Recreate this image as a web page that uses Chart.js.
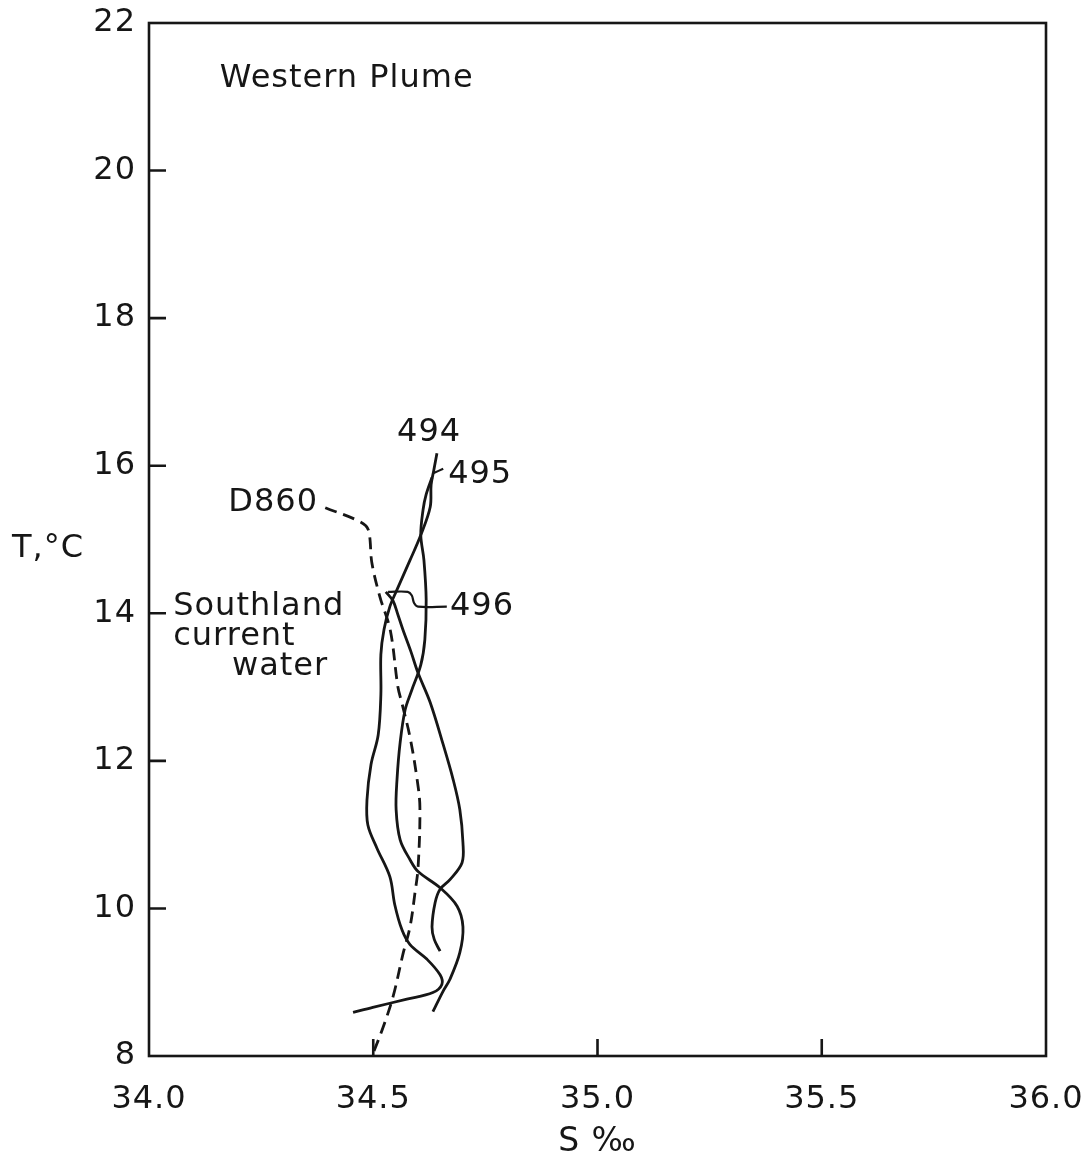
<!DOCTYPE html>
<html>
<head>
<meta charset="utf-8">
<script src="https://cdn.jsdelivr.net/npm/chart.js@4.4.1/dist/chart.umd.min.js"></script>
<style>
  html, body { margin: 0; padding: 0; background: #ffffff; }
  canvas { display: block; }
</style>
</head>
<body>
<canvas id="ts" width="1086" height="1165"></canvas>
<script>
// Axis ranges and tick values
const salinityTicks = [34.0, 34.5, 35.0, 35.5, 36.0];
const tempTicks = [8, 10, 12, 14, 16, 18, 20, 22];

// Station 494 (salinity ‰, temperature °C)
const s494 = [34.642, 34.635, 34.629, 34.627, 34.606, 34.582, 34.553, 34.537, 34.524, 34.517, 34.517, 34.511, 34.495, 34.486, 34.488, 34.508, 34.537, 34.548, 34.564, 34.582, 34.620, 34.649, 34.653, 34.633, 34.575, 34.499, 34.455];
const t494 = [16.17, 15.94, 15.74, 15.44, 15.06, 14.72, 14.32, 14.09, 13.78, 13.44, 12.90, 12.35, 11.95, 11.47, 11.13, 10.82, 10.43, 10.05, 9.71, 9.51, 9.31, 9.10, 8.97, 8.86, 8.77, 8.66, 8.59];

// Station 495
const s495 = [34.631, 34.618, 34.611, 34.606, 34.613, 34.618, 34.615, 34.606, 34.586, 34.571, 34.560, 34.553, 34.551, 34.560, 34.582, 34.600, 34.649, 34.687, 34.700, 34.693, 34.671, 34.655, 34.633];
const t495 = [15.84, 15.61, 15.40, 15.06, 14.72, 14.18, 13.64, 13.30, 12.96, 12.69, 12.25, 11.75, 11.34, 10.93, 10.66, 10.50, 10.28, 10.03, 9.75, 9.40, 9.04, 8.87, 8.60];

// Station 496
const s496 = [34.528, 34.544, 34.555, 34.566, 34.584, 34.600, 34.627, 34.655, 34.678, 34.693, 34.700, 34.698, 34.671, 34.649, 34.638, 34.631, 34.636, 34.649];
const t496 = [14.29, 14.17, 13.98, 13.78, 13.48, 13.19, 12.79, 12.24, 11.75, 11.34, 10.89, 10.62, 10.39, 10.26, 10.08, 9.75, 9.58, 9.42];

// Station D860 (dashed)
const sD860 = [34.393, 34.471, 34.489, 34.497, 34.515, 34.538, 34.555, 34.564, 34.582, 34.598, 34.604, 34.600, 34.593, 34.582, 34.567, 34.544, 34.522, 34.500];
const tD860 = [15.43, 15.24, 15.13, 14.68, 14.22, 13.77, 13.00, 12.78, 12.32, 11.74, 11.37, 10.56, 10.21, 9.75, 9.40, 8.80, 8.39, 8.04];

// Label leader lines
const s495Leader = [34.656, 34.635];
const t495Leader = [15.96, 15.90];
const s496Leader = [34.664, 34.600, 34.591, 34.586, 34.577, 34.533];
const t496Leader = [14.09, 14.09, 14.14, 14.24, 14.29, 14.29];

// Text labels inside the plot (salinity, temperature anchor)
const labelTexts = ['Western Plume', '494', '495', '496', 'D860', 'Southland', 'current', 'water'];
const labelS = [34.158, 34.553, 34.667, 34.671, 34.377, 34.054, 34.054, 34.185];
const labelT = [21.25, 16.45, 15.88, 14.09, 15.50, 14.09, 13.68, 13.28];
const labelAlign = ['left', 'left', 'left', 'left', 'right', 'left', 'left', 'left'];

const FONT = '"DejaVu Sans", "Liberation Sans", sans-serif';
const INK = '#161616';

function pts(sArr, tArr) {
  return sArr.map((s, i) => ({ x: s, y: tArr[i] }));
}

function curve(data, dashed, width) {
  return {
    data,
    showLine: true,
    borderColor: INK,
    borderWidth: width || 2.8,
    borderDash: dashed ? [12, 7] : [],
    pointRadius: 0,
    pointHoverRadius: 0,
    tension: 0.35,
    fill: false
  };
}

const framePlugin = {
  id: 'frame',
  beforeDraw(chart) {
    // slightly open lettering for all canvas text
    chart.ctx.letterSpacing = '1px';
  },
  afterDatasetsDraw(chart) {
    const { ctx, chartArea: a, scales } = chart;
    ctx.save();
    ctx.strokeStyle = INK;
    ctx.lineWidth = 2.6;
    ctx.setLineDash([]);
    ctx.strokeRect(a.left, a.top, a.right - a.left, a.bottom - a.top);
    // inward tick marks
    const len = 17;
    ctx.beginPath();
    salinityTicks.slice(1, -1).forEach(v => {
      const x = scales.x.getPixelForValue(v);
      ctx.moveTo(x, a.bottom);
      ctx.lineTo(x, a.bottom - len);
    });
    tempTicks.slice(1, -1).forEach(v => {
      const y = scales.y.getPixelForValue(v);
      ctx.moveTo(a.left, y);
      ctx.lineTo(a.left + len, y);
    });
    ctx.stroke();
    ctx.restore();
  },
  afterDraw(chart) {
    const { ctx, chartArea: a, scales } = chart;
    ctx.save();
    ctx.fillStyle = INK;
    ctx.font = '32px ' + FONT;
    ctx.textBaseline = 'middle';
    labelTexts.forEach((txt, i) => {
      ctx.textAlign = labelAlign[i];
      ctx.fillText(txt, scales.x.getPixelForValue(labelS[i]), scales.y.getPixelForValue(labelT[i]));
    });
    // vertical axis title, set horizontally at the left
    ctx.textAlign = 'left';
    ctx.fillText('T,°C', 12, (a.top + a.bottom) / 2 + 9);
    ctx.restore();
  }
};

new Chart(document.getElementById('ts'), {
  type: 'scatter',
  data: {
    datasets: [
      curve(pts(s494, t494)),
      curve(pts(s495, t495)),
      curve(pts(s496, t496)),
      curve(pts(sD860, tD860), true),
      curve(pts(s495Leader, t495Leader), false, 2.2),
      curve(pts(s496Leader, t496Leader), false, 2.2)
    ]
  },
  options: {
    responsive: false,
    animation: false,
    devicePixelRatio: 1,
    layout: { padding: { top: 23, right: 40, left: 0, bottom: 0 } },
    plugins: { legend: { display: false }, tooltip: { enabled: false } },
    scales: {
      x: {
        type: 'linear',
        min: 34,
        max: 36,
        grid: { display: false, drawTicks: false },
        border: { display: false },
        ticks: {
          stepSize: 0.5,
          padding: 24,
          color: INK,
          font: { family: FONT, size: 32 },
          callback: v => Number(v).toFixed(1)
        },
        title: {
          display: true,
          text: 'S ‰',
          color: INK,
          font: { family: FONT, size: 33 },
          padding: { top: 0, bottom: 3 }
        },
        afterFit(scale) {
          scale.height = 109;
          scale.paddingLeft = 0;
          scale.paddingRight = 0;
        }
      },
      y: {
        type: 'linear',
        min: 8,
        max: 22,
        grid: { display: false, drawTicks: false },
        border: { display: false },
        ticks: {
          stepSize: 2,
          padding: 13,
          color: INK,
          font: { family: FONT, size: 32 }
        },
        afterFit(scale) {
          scale.width = 149;
          scale.paddingTop = 0;
          scale.paddingBottom = 0;
        }
      }
    }
  },
  plugins: [framePlugin]
});
</script>
</body>
</html>
